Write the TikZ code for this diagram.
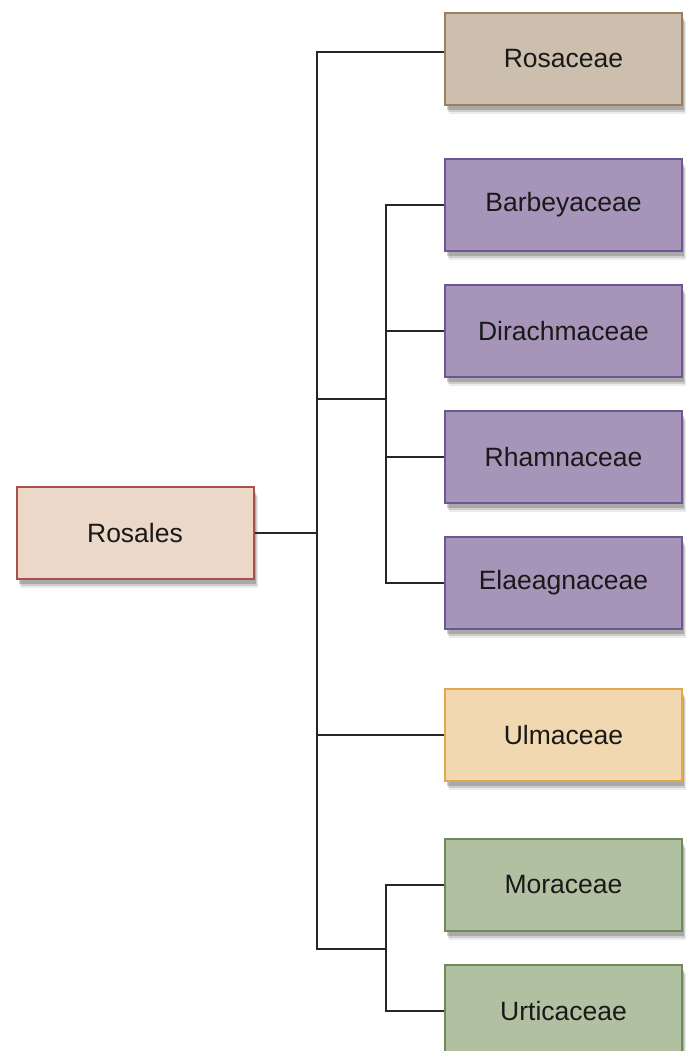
\documentclass[tikz,border=0pt]{standalone}
\usepackage{fontspec}
\setmainfont{Liberation Sans}
\usepackage{xcolor}
\usepackage{tikz}
\usetikzlibrary{positioning, shadows, calc}

\definecolor{rosalesfill}{HTML}{EBD8C8}
\definecolor{rosalesline}{HTML}{A8504C}
\definecolor{rosaceaefill}{HTML}{CDBFAE}
\definecolor{rosaceaeline}{HTML}{9A7E5E}
\definecolor{purplefill}{HTML}{A795B9}
\definecolor{purpleline}{HTML}{6C5693}
\definecolor{ulmfill}{HTML}{F1D8B0}
\definecolor{ulmline}{HTML}{E2A94A}
\definecolor{greenfill}{HTML}{B1C0A0}
\definecolor{greenline}{HTML}{6E8A5A}

\begin{document}
\begin{tikzpicture}[
  x=1pt, y=1pt,
  node distance=32pt,
  taxon/.style={rectangle, line width=2pt, minimum width=237pt, minimum height=92pt, align=center,
    font=\fontsize{26.5}{30}\selectfont, text=black!90,
    drop shadow={shadow xshift=4pt, shadow yshift=-9pt, opacity=0.08, fill=black},
    drop shadow={shadow xshift=3pt, shadow yshift=-7pt, opacity=0.12, fill=black},
    drop shadow={shadow xshift=2pt, shadow yshift=-5pt, opacity=0.18, fill=black}},
  link/.style={line width=2.6pt, draw=black!85}
]
  \useasboundingbox (0,0) rectangle (689,-1051);

  \node[taxon, fill=rosalesfill, draw=rosalesline] (rosales) at (135,-533) {Rosales};
  \node[taxon, fill=rosaceaefill, draw=rosaceaeline] (rosaceae) at (563.5,-59) {Rosaceae};
  \node[taxon, fill=purplefill, draw=purpleline, below=52pt of rosaceae] (barbeyaceae) {Barbeyaceae};
  \node[taxon, fill=purplefill, draw=purpleline, below=of barbeyaceae] (dirachmaceae) {Dirachmaceae};
  \node[taxon, fill=purplefill, draw=purpleline, below=of dirachmaceae] (rhamnaceae) {Rhamnaceae};
  \node[taxon, fill=purplefill, draw=purpleline, below=of rhamnaceae] (elaeagnaceae) {Elaeagnaceae};
  \node[taxon, fill=ulmfill, draw=ulmline, below=58pt of elaeagnaceae] (ulmaceae) {Ulmaceae};
  \node[taxon, fill=greenfill, draw=greenline, below=56pt of ulmaceae] (moraceae) {Moraceae};
  \node[taxon, fill=greenfill, draw=greenline, below=of moraceae] (urticaceae) {Urticaceae};

  % branch points
  \coordinate (rootj) at (317,-533);
  \coordinate (purplej) at (386,-399);
  \coordinate (greenj) at (386,-949);

  \draw[link] (rosales.east) -- (rootj);
  \draw[link] ($(rosaceae.west)+(0,7)$) -| (rootj) |- (greenj);
  \draw[link] (rootj |- purplej) -- (purplej);
  \draw[link] (ulmaceae.west) -- (ulmaceae.west -| rootj);
  \draw[link] (barbeyaceae.west) -| (purplej) |- (elaeagnaceae.west);
  \draw[link] (dirachmaceae.west) -- (dirachmaceae.west -| purplej);
  \draw[link] (rhamnaceae.west) -- (rhamnaceae.west -| purplej);
  \draw[link] (moraceae.west) -| (greenj) |- (urticaceae.west);
\end{tikzpicture}
\end{document}
